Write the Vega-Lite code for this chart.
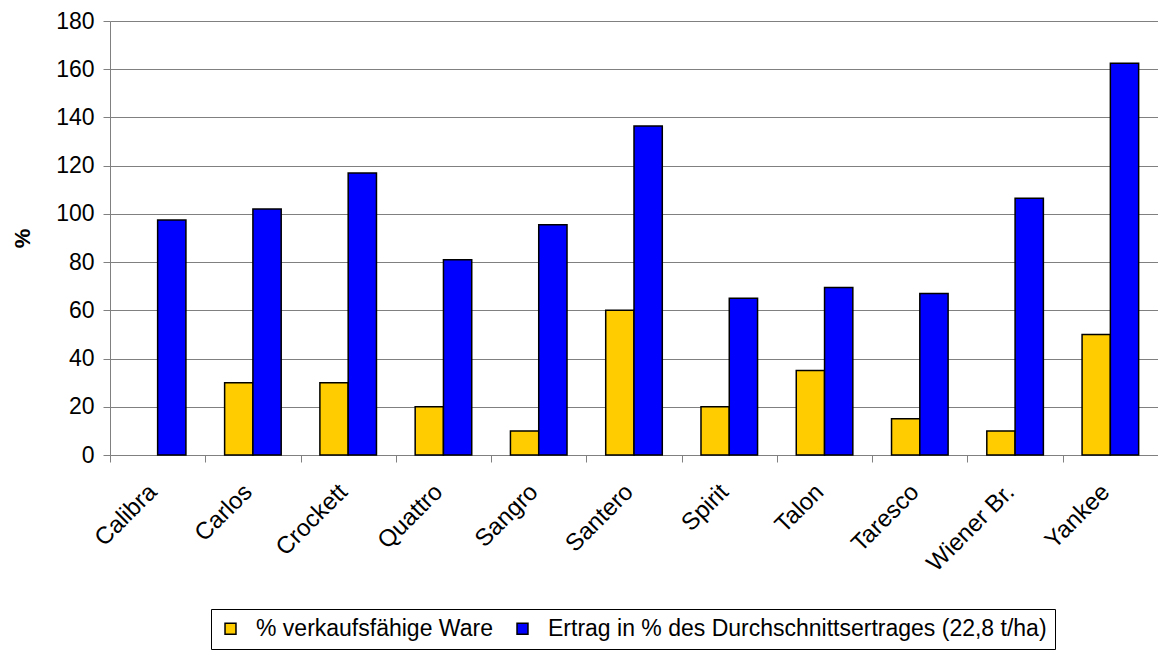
{
  "$schema": "https://vega.github.io/schema/vega-lite/v6.json",
  "autosize": {"type": "none"},
  "padding": {"left": 110, "top": 21, "right": 0, "bottom": 195},
  "width": 1048,
  "height": 434,
  "background": "white",
  "config": {
    "font": "Liberation Sans",
    "view": {"stroke": null},
    "axis": {"labelColor": "black", "titleColor": "black", "labelFont": "Liberation Sans", "titleFont": "Liberation Sans"}
  },
  "data": {
    "values": [
      {"Sorte": "Calibra", "Serie": "Ertrag in % des Durchschnittsertrages (22,8 t/ha)", "Wert": 97.5},
      {"Sorte": "Carlos", "Serie": "% verkaufsfähige Ware", "Wert": 30},
      {"Sorte": "Carlos", "Serie": "Ertrag in % des Durchschnittsertrages (22,8 t/ha)", "Wert": 102},
      {"Sorte": "Crockett", "Serie": "% verkaufsfähige Ware", "Wert": 30},
      {"Sorte": "Crockett", "Serie": "Ertrag in % des Durchschnittsertrages (22,8 t/ha)", "Wert": 117},
      {"Sorte": "Quattro", "Serie": "% verkaufsfähige Ware", "Wert": 20},
      {"Sorte": "Quattro", "Serie": "Ertrag in % des Durchschnittsertrages (22,8 t/ha)", "Wert": 81},
      {"Sorte": "Sangro", "Serie": "% verkaufsfähige Ware", "Wert": 10},
      {"Sorte": "Sangro", "Serie": "Ertrag in % des Durchschnittsertrages (22,8 t/ha)", "Wert": 95.5},
      {"Sorte": "Santero", "Serie": "% verkaufsfähige Ware", "Wert": 60},
      {"Sorte": "Santero", "Serie": "Ertrag in % des Durchschnittsertrages (22,8 t/ha)", "Wert": 136.5},
      {"Sorte": "Spirit", "Serie": "% verkaufsfähige Ware", "Wert": 20},
      {"Sorte": "Spirit", "Serie": "Ertrag in % des Durchschnittsertrages (22,8 t/ha)", "Wert": 65},
      {"Sorte": "Talon", "Serie": "% verkaufsfähige Ware", "Wert": 35},
      {"Sorte": "Talon", "Serie": "Ertrag in % des Durchschnittsertrages (22,8 t/ha)", "Wert": 69.5},
      {"Sorte": "Taresco", "Serie": "% verkaufsfähige Ware", "Wert": 15},
      {"Sorte": "Taresco", "Serie": "Ertrag in % des Durchschnittsertrages (22,8 t/ha)", "Wert": 67},
      {"Sorte": "Wiener Br.", "Serie": "% verkaufsfähige Ware", "Wert": 10},
      {"Sorte": "Wiener Br.", "Serie": "Ertrag in % des Durchschnittsertrages (22,8 t/ha)", "Wert": 106.5},
      {"Sorte": "Yankee", "Serie": "% verkaufsfähige Ware", "Wert": 50},
      {"Sorte": "Yankee", "Serie": "Ertrag in % des Durchschnittsertrages (22,8 t/ha)", "Wert": 162.5}
    ]
  },
  "mark": {"type": "bar", "stroke": "black", "strokeWidth": 1.5},
  "encoding": {
    "x": {
      "field": "Sorte",
      "type": "nominal",
      "sort": ["Calibra", "Carlos", "Crockett", "Quattro", "Sangro", "Santero", "Spirit", "Talon", "Taresco", "Wiener Br.", "Yankee"],
      "scale": {"paddingInner": 0, "paddingOuter": 0},
      "axis": {
        "title": null,
        "labelAngle": -45,
        "labelAlign": "right",
        "labelBaseline": "alphabetic",
        "labelFontSize": 24,
        "labelPadding": 31,
        "tickBand": "extent",
        "tickSize": 7,
        "tickColor": "#808080",
        "domainColor": "#808080",
        "grid": false
      }
    },
    "xOffset": {
      "field": "Serie",
      "type": "nominal",
      "sort": ["% verkaufsfähige Ware", "Ertrag in % des Durchschnittsertrages (22,8 t/ha)"],
      "scale": {"paddingInner": 0, "paddingOuter": 0.684}
    },
    "y": {
      "field": "Wert",
      "type": "quantitative",
      "scale": {"domain": [0, 180], "nice": false},
      "axis": {
        "title": "%",
        "titleFontSize": 22,
        "titleFontWeight": "bold",
        "titleAngle": -90,
        "titleX": -88,
        "titleY": 217,
        "titleAlign": "center",
        "titleBaseline": "middle",
        "values": [0, 20, 40, 60, 80, 100, 120, 140, 160, 180],
        "labelFontSize": 23,
        "labelPadding": 9,
        "tickSize": 7,
        "tickColor": "#808080",
        "domainColor": "#808080",
        "gridColor": "#808080",
        "gridWidth": 1
      }
    },
    "color": {
      "field": "Serie",
      "type": "nominal",
      "sort": ["% verkaufsfähige Ware", "Ertrag in % des Durchschnittsertrages (22,8 t/ha)"],
      "scale": {
        "domain": ["% verkaufsfähige Ware", "Ertrag in % des Durchschnittsertrages (22,8 t/ha)"],
        "range": ["#FFCC00", "#0000FF"]
      },
      "legend": {
        "title": null,
        "orient": "none",
        "legendX": 101,
        "legendY": 588,
        "direction": "horizontal",
        "strokeColor": "black",
        "fillColor": "white",
        "padding": 8,
        "labelFontSize": 23,
        "labelColor": "black",
        "labelLimit": 0,
        "labelOffset": 14,
        "columnPadding": 18,
        "symbolType": "square",
        "symbolSize": 120,
        "symbolStrokeColor": "black",
        "symbolStrokeWidth": 1.5,
        "symbolOpacity": 1
      }
    }
  }
}
